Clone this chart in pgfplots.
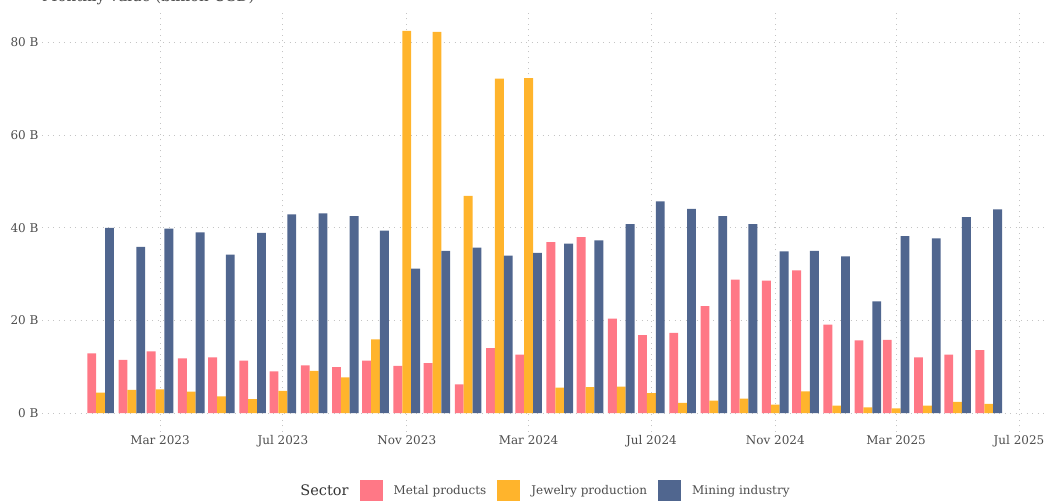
\documentclass[border=0pt]{standalone}
\usepackage{pgfplots}
\usepackage{pgfplotstable}
\usepackage{fontspec}
\setmainfont{DejaVu Serif}
\pgfplotsset{compat=1.18}

\definecolor{metal}{RGB}{255,120,134}
\definecolor{jewel}{RGB}{255,180,44}
\definecolor{mining}{RGB}{80,102,143}
\definecolor{gridgrey}{RGB}{196,196,196}
\definecolor{labelgrey}{RGB}{77,77,77}

% day = days since 1 Jan 2023 (bars sit on the first of each month), values in billions
\pgfplotstableread{
day metal jewelry mining
0   12.9  4.4  40.0
31  11.5  5.0  35.9
59  13.3  5.1  39.8
90  11.8  4.6  39.0
120 12.0  3.6  34.2
151 11.3  3.0  38.9
181  9.0  4.8  42.9
212 10.3  9.1  43.1
243  9.9  7.7  42.5
273 11.3 15.9  39.4
304 10.2 82.5  31.2
334 10.8 82.3  35.0
365  6.2 46.9  35.7
396 14.0 72.2  34.0
425 12.6 72.3  34.6
456 36.9  5.5  36.6
486 38.0  5.6  37.3
517 20.4  5.7  40.8
547 16.8  4.3  45.7
578 17.3  2.2  44.1
609 23.1  2.7  42.5
639 28.8  3.1  40.8
670 28.6  1.8  34.9
700 30.8  4.7  35.0
731 19.1  1.6  33.8
762 15.7  1.2  24.1
790 15.8  1.0  38.2
821 12.0  1.6  37.7
851 12.6  2.4  42.3
882 13.6  2.0  44.0
}\sectors

\begin{document}
\begin{tikzpicture}
\useasboundingbox (0,0) rectangle (1047bp,501bp);
% title, cut off by the top edge as in the original
\node[anchor=base west, inner sep=0pt, text=labelgrey,
      font=\fontsize{15bp}{17bp}\selectfont] at (42bp,499.5bp)
      {Monthly value (billion USD)};
\begin{axis}[
    at={(42bp,69bp)}, anchor=south west,
    width=1003bp, height=420bp, scale only axis,
    xmin=-58.2, xmax=937.9,
    ymin=-4.1, ymax=86.6,
    ybar, bar width=8.8,
    axis line style={draw=none},
    major tick length=0pt,
    grid=major,
    major grid style={gridgrey, line width=0.9bp, dash pattern=on 1.2bp off 4.3bp},
    xtick={59,181,304,425,547,670,790,912},
    xticklabels={Mar 2023,Jul 2023,Nov 2023,Mar 2024,Jul 2024,Nov 2024,Mar 2025,Jul 2025},
    ytick={0,20,40,60,80},
    yticklabel={\pgfmathprintnumber{\tick}~B},
    /pgf/number format/assume math mode=true,
    tick label style={font=\fontsize{12bp}{14bp}\selectfont, text=labelgrey},
    legend columns=-1,
    legend style={at={(0.496,-0.1405)}, anchor=center, draw=none, fill=none,
        column sep=11bp, nodes={inner sep=0pt},
        font=\fontsize{12bp}{14bp}\selectfont, text=labelgrey},
    legend image code/.code={\fill[#1] (0bp,-11bp) rectangle (23bp,11bp);},
]
\addlegendimage{empty legend}
\addlegendentry{\fontsize{14.5bp}{16bp}\selectfont\color{black!80}Sector}

\addplot[fill=metal, draw=none, bar shift=-8.8] table[x=day, y=metal] {\sectors};
\addlegendentry{Metal products}
\addplot[fill=jewel, draw=none, bar shift=0] table[x=day, y=jewelry] {\sectors};
\addlegendentry{Jewelry production}
\addplot[fill=mining, draw=none, bar shift=8.8] table[x=day, y=mining] {\sectors};
\addlegendentry{Mining industry}
\end{axis}
\end{tikzpicture}
\end{document}
